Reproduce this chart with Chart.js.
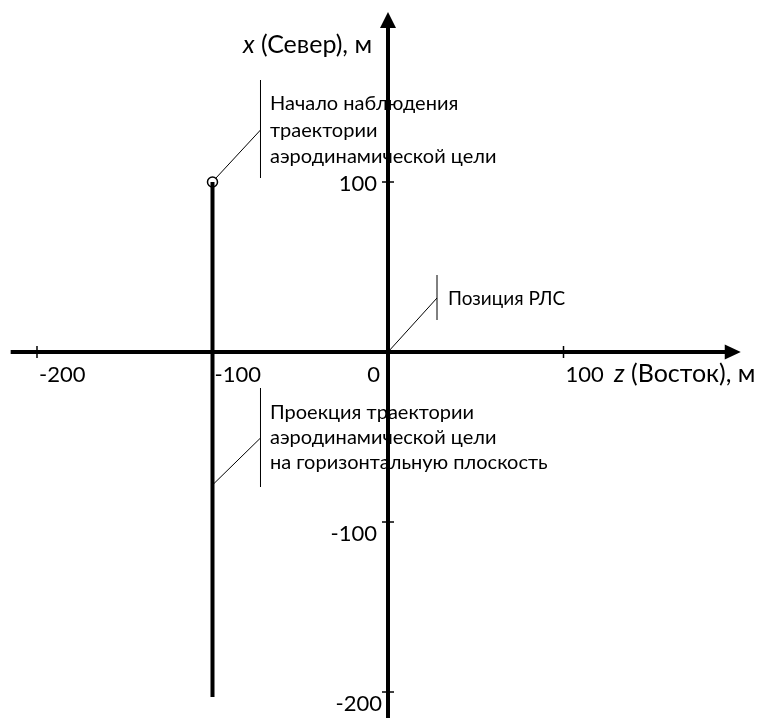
<!DOCTYPE html>
<html>
<head>
<meta charset="utf-8">
<script src="https://cdn.jsdelivr.net/npm/chart.js@4/dist/chart.umd.min.js"></script>
<style>
  html, body { margin: 0; padding: 0; background: #fff; }
  #wrap { width: 762px; height: 718px; }
</style>
</head>
<body>
<div id="wrap"><canvas id="c" width="762" height="718"></canvas></div>
<script>
// Horizontal-plane layout: z (East) along the horizontal axis, x (North) along the vertical one.
const zTickValues = [-200, -100, 0, 100];
const xTickValues = [100, -100, -200];
const zTickMarks = [-200, 100];
const xTickMarks = [100, -100, -200];

// Target ground track (z, x) and its first observed point
const trackZ = [-100, -100];
const trackX = [100, -203];
const startZ = [-100];
const startX = [100];

// Radar site
const radarZ = 0;
const radarX = 0;

// Visible extent of the drawn axes
const zAxisRange = [-215, 201];
const xAxisRange = [-220, 200];

const FONT = 'Lato, "Open Sans", sans-serif';

const axesPlugin = {
  id: 'crossAxes',
  beforeDatasetsDraw(chart) {
    const ctx = chart.ctx;
    const sx = chart.scales.x, sy = chart.scales.y;
    const x0 = sx.getPixelForValue(0), y0 = sy.getPixelForValue(0);
    ctx.save();
    ctx.strokeStyle = '#000';
    ctx.fillStyle = '#000';
    ctx.lineCap = 'butt';

    // horizontal axis
    const zl = sx.getPixelForValue(zAxisRange[0]);
    const zr = sx.getPixelForValue(zAxisRange[1]);
    ctx.lineWidth = 4;
    ctx.beginPath(); ctx.moveTo(zl, y0); ctx.lineTo(zr - 14, y0); ctx.stroke();
    ctx.beginPath();
    ctx.moveTo(zr, y0); ctx.lineTo(zr - 16, y0 - 7.5); ctx.lineTo(zr - 16, y0 + 7.5); ctx.closePath(); ctx.fill();

    // vertical axis
    const xt = sy.getPixelForValue(xAxisRange[1]);
    const xb = sy.getPixelForValue(xAxisRange[0]);
    ctx.beginPath(); ctx.moveTo(x0, xb); ctx.lineTo(x0, xt + 14); ctx.stroke();
    ctx.beginPath();
    ctx.moveTo(x0, xt); ctx.lineTo(x0 - 8, xt + 16); ctx.lineTo(x0 + 8, xt + 16); ctx.closePath(); ctx.fill();

    // tick marks
    ctx.lineWidth = 1.5;
    zTickMarks.forEach(v => {
      const p = sx.getPixelForValue(v);
      ctx.beginPath(); ctx.moveTo(p, y0 - 6); ctx.lineTo(p, y0 + 6); ctx.stroke();
    });
    xTickMarks.forEach(v => {
      const p = sy.getPixelForValue(v);
      ctx.beginPath(); ctx.moveTo(x0 - 6, p); ctx.lineTo(x0 + 6, p); ctx.stroke();
    });

    // tick labels
    ctx.font = '22px ' + FONT;
    ctx.textBaseline = 'alphabetic';
    zTickValues.forEach(v => {
      const p = sx.getPixelForValue(v);
      if (v === 0) { ctx.textAlign = 'right'; ctx.fillText(String(v), p - 8, y0 + 30); }
      else { ctx.textAlign = 'left'; ctx.fillText(String(v), p + 2, y0 + 30); }
    });
    ctx.textAlign = 'right';
    xTickValues.forEach(v => {
      const p = sy.getPixelForValue(v);
      const dy = v > 0 ? 9 : 19;
      ctx.fillText(String(v), x0 - (v === -200 ? 6 : 11), p + dy);
    });

    // axis titles
    ctx.textAlign = 'left';
    const drawTitle = (italic, rest, x, y) => {
      ctx.font = 'italic 25px ' + FONT;
      ctx.fillText(italic, x, y);
      const w = ctx.measureText(italic).width;
      ctx.font = '25px ' + FONT;
      ctx.fillText(rest, x + w, y);
    };
    drawTitle('x', ' (Север), м', 243, 53);
    drawTitle('z', ' (Восток), м', 614, y0 + 30);
    ctx.restore();
  },
  afterDatasetsDraw(chart) {
    const ctx = chart.ctx;
    const sx = chart.scales.x, sy = chart.scales.y;
    ctx.save();
    ctx.strokeStyle = '#000';
    ctx.fillStyle = '#000';
    ctx.lineWidth = 1;
    ctx.textAlign = 'left';

    const callout = (ax, ay, bx, by, barTop, barBottom, lines, tx, ty, step, font) => {
      ctx.beginPath(); ctx.moveTo(ax, ay); ctx.lineTo(bx, by); ctx.stroke();
      ctx.beginPath(); ctx.moveTo(bx, barTop); ctx.lineTo(bx, barBottom); ctx.stroke();
      ctx.font = font;
      lines.forEach((s, i) => ctx.fillText(s, tx, ty + i * step));
    };

    // start of observation
    const spx = sx.getPixelForValue(startZ[0]), spy = sy.getPixelForValue(startX[0]);
    callout(spx + 3.5, spy - 4, spx + 48, spy - 52, spy - 102, spy - 4,
      ['Начало наблюдения', 'траектории', 'аэродинамической цели'],
      270, 110, 26.5, '20px ' + FONT);

    // radar site
    const rpx = sx.getPixelForValue(radarZ), rpy = sy.getPixelForValue(radarX);
    callout(rpx, rpy, rpx + 49, rpy - 54, rpy - 77, rpy - 32,
      ['Позиция РЛС'], 448, 305, 0, '19px ' + FONT);

    // ground-track projection
    const tpx = sx.getPixelForValue(trackZ[0]);
    callout(tpx + 1, 484, tpx + 48, 438, 388, 487,
      ['Проекция траектории', 'аэродинамической цели', 'на горизонтальную плоскость'],
      270, 419, 25, '20px ' + FONT);
    ctx.restore();
  }
};

new Chart(document.getElementById('c'), {
  type: 'scatter',
  data: {
    datasets: [
      {
        label: 'track',
        data: trackZ.map((z, i) => ({ x: z, y: trackX[i] })),
        showLine: true,
        borderColor: '#000',
        borderWidth: 4,
        pointRadius: 0,
        borderCapStyle: 'butt'
      },
      {
        label: 'start',
        data: startZ.map((z, i) => ({ x: z, y: startX[i] })),
        pointRadius: 5,
        pointBackgroundColor: '#fff',
        pointBorderColor: '#000',
        pointBorderWidth: 1.5
      }
    ]
  },
  options: {
    responsive: false,
    animation: false,
    devicePixelRatio: 1,
    layout: { padding: 0, autoPadding: false },
    plugins: { legend: { display: false }, tooltip: { enabled: false } },
    scales: {
      x: { type: 'linear', display: false, min: -221.08, max: 213.1 },
      y: { type: 'linear', display: false, min: -215.29, max: 207.06 }
    }
  },
  plugins: [axesPlugin]
});
</script>
</body>
</html>
